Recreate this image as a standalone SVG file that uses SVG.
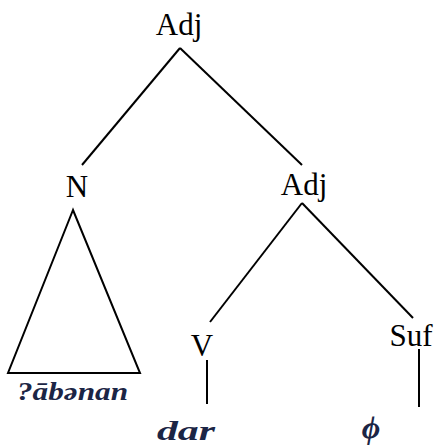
<svg xmlns="http://www.w3.org/2000/svg" width="434" height="446" viewBox="0 0 434 446">
<style>
.lbl{font-family:'Liberation Serif','Times New Roman',serif;font-size:31px;fill:#000;text-anchor:middle}
.leaf{font-family:'Liberation Serif','Times New Roman',serif;font-weight:bold;font-style:italic;fill:#1b2545}
.e{stroke:#000;stroke-width:2;fill:none}
</style>
<rect width="434" height="446" fill="#fff"/>
<g id="connectors">
<line class="e" x1="180" y1="48" x2="82" y2="165"/>
<line class="e" x1="180" y1="48" x2="302" y2="165"/>
<polygon class="e" points="73,210 8,373 140,373"/>
<line class="e" x1="302" y1="203" x2="210" y2="322"/>
<line class="e" x1="302" y1="203" x2="413" y2="318"/>
<line class="e" x1="207" y1="360" x2="207" y2="404"/>
<line class="e" x1="419" y1="349" x2="419" y2="407"/>
</g>
<g id="adj-root"><text class="lbl" x="179" y="35">Adj</text></g>
<g id="n"><text class="lbl" x="77" y="197">N</text></g>
<g id="adj-mid"><text class="lbl" x="304" y="195">Adj</text></g>
<g id="v"><text class="lbl" x="202" y="356">V</text></g>
<g id="suf"><text class="lbl" x="411" y="346">Suf</text></g>
<g id="leaf-n"><text class="leaf" x="17" y="400" font-size="25" textLength="111" lengthAdjust="spacingAndGlyphs">?ābənan</text></g>
<g id="leaf-v"><text class="leaf" x="157" y="440" font-size="27" textLength="58" lengthAdjust="spacingAndGlyphs">dar</text></g>
<g id="leaf-suf"><text class="leaf" x="371" y="438" font-size="32" text-anchor="middle">ϕ</text></g>
</svg>
